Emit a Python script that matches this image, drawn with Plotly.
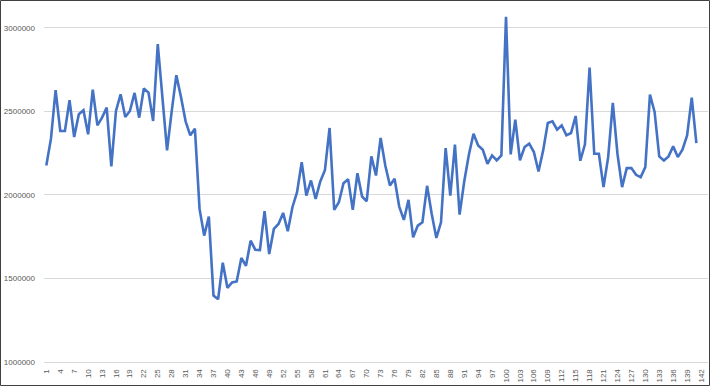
import plotly.graph_objects as go

# Category index (1..141 carry data; axis shows room for 143 categories)
periods = list(range(1, 142))

values = [
    2176000, 2336000, 2626000, 2382000, 2382000, 2566000, 2346000, 2482000, 2506000, 2362000,
    2630000, 2416000, 2462000, 2522000, 2170000, 2502000, 2602000, 2466000, 2502000, 2610000,
    2462000, 2636000, 2612000, 2442000, 2902000, 2570000, 2266000, 2500000, 2716000, 2586000,
    2440000, 2356000, 2396000, 1916000, 1756000, 1870000, 1398000, 1376000, 1594000, 1444000,
    1476000, 1482000, 1622000, 1576000, 1726000, 1672000, 1670000, 1902000, 1646000, 1796000,
    1826000, 1892000, 1782000, 1926000, 2016000, 2196000, 1996000, 2086000, 1976000, 2080000,
    2148000, 2400000, 1910000, 1956000, 2070000, 2094000, 1910000, 2130000, 1990000, 1962000,
    2230000, 2116000, 2340000, 2176000, 2056000, 2096000, 1930000, 1850000, 1970000, 1746000,
    1816000, 1836000, 2054000, 1886000, 1742000, 1836000, 2280000, 1996000, 2300000, 1882000,
    2080000, 2240000, 2366000, 2296000, 2270000, 2186000, 2236000, 2206000, 2236000, 3066000,
    2242000, 2450000, 2206000, 2286000, 2306000, 2256000, 2140000, 2266000, 2430000, 2440000,
    2390000, 2416000, 2356000, 2370000, 2472000, 2204000, 2302000, 2762000, 2246000, 2246000,
    2046000, 2226000, 2550000, 2246000, 2046000, 2160000, 2160000, 2120000, 2106000, 2166000,
    2600000, 2496000, 2230000, 2206000, 2230000, 2290000, 2226000, 2270000, 2356000, 2582000,
    2310000,
]

x_tick_values = [1, 4, 7, 10, 13, 16, 19, 22, 25, 28, 31, 34, 37, 40, 43, 46, 49, 52, 55, 58,
                 61, 64, 67, 70, 73, 76, 79, 82, 85, 88, 91, 94, 97, 100, 103, 106, 109, 112,
                 115, 118, 121, 124, 127, 130, 133, 136, 139, 142]
x_tick_labels = [str(v) for v in x_tick_values]

y_tick_values = [1000000, 1500000, 2000000, 2500000, 3000000]
y_tick_labels = ["1000000", "1500000", "2000000", "2500000", "3000000"]

W, H = 710, 386
ML, MR, MT, MB = 44, 2, 11, 24
PW, PH = W - ML - MR, H - MT - MB

fig = go.Figure()
fig.add_trace(go.Scatter(
    x=periods, y=values, mode="lines",
    line=dict(color="#4472C4", width=2.6),
    hoverinfo="x+y", showlegend=False,
))

font = dict(family="Liberation Sans, Arial, sans-serif", size=8, color="#595959")

fig.update_layout(
    width=W, height=H,
    margin=dict(l=ML, r=MR, t=MT, b=MB, autoexpand=False),
    paper_bgcolor="white", plot_bgcolor="white",
    font=font,
    xaxis=dict(
        range=[0.5, 143.5], tickmode="array",
        tickvals=x_tick_values, ticktext=x_tick_labels,
        tickangle=-90, showgrid=False, zeroline=False,
        showline=True, linecolor="#d9d9d9", linewidth=1,
        ticks="", tickfont=font, ticklabelstandoff=3, automargin=False,
    ),
    yaxis=dict(
        range=[1000000, 3100000], tickmode="array",
        tickvals=y_tick_values, ticktext=y_tick_labels,
        showgrid=True, gridcolor="#d9d9d9", gridwidth=1,
        zeroline=False, showline=False, ticks="",
        tickfont=font, ticklabelstandoff=8, automargin=False,
    ),
    shapes=[dict(
        type="rect", xref="paper", yref="paper",
        x0=(0.5 - ML) / PW, x1=(W - 0.5 - ML) / PW,
        y0=(H - MB - (H - 0.5)) / PH, y1=(H - MB - 0.5) / PH,
        line=dict(color="#404040", width=1), fillcolor="rgba(0,0,0,0)",
        layer="above",
    )],
)

fig.write_html(
    "out.html",
    config={"displayModeBar": False},
    post_script="document.body.style.margin='0';document.body.style.overflow='hidden';",
)
